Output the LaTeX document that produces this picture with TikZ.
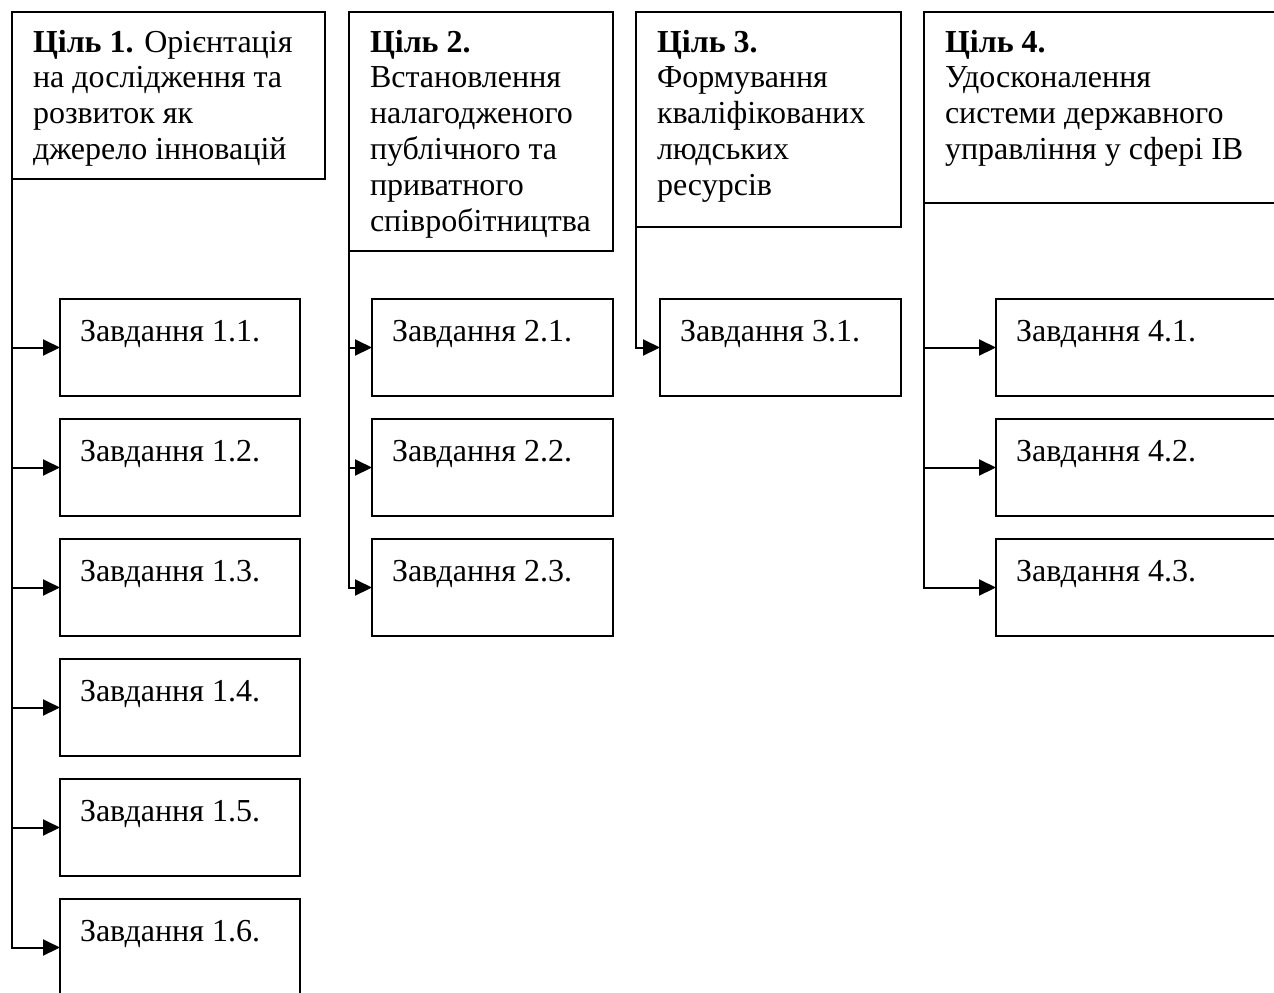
\documentclass[tikz,border=0pt]{standalone}
\usepackage{fontspec}
\setmainfont{Liberation Serif}
\usepackage{tikz}
\usetikzlibrary{arrows.meta}

\newcommand{\goaltxt}[3]{\parbox[t][#1][t]{#2}{\raggedright\rule{0pt}{20pt}#3}}
\newcommand{\tasktxt}[2][100pt]{\parbox[t][48.5pt][t]{#1}{\rule{0pt}{21pt}#2}}

\tikzset{
  goalbox/.style={draw, line width=0.8pt, anchor=north west, inner xsep=10.5pt,
    inner ysep=0pt, outer sep=0pt, font={\fontsize{16pt}{17.9pt}\selectfont}},
  taskbox/.style={draw, line width=0.8pt, anchor=north west, inner xsep=10pt,
    inner ysep=0pt, outer sep=0pt, font={\fontsize{16pt}{17.9pt}\selectfont}},
  link/.style={line width=1pt, -{Triangle[length=8.5pt,width=8pt]}}
}

\begin{document}
\begin{tikzpicture}[x=0.5pt,y=-0.5pt]
  \useasboundingbox (0,0) rectangle (1274,992);

  % goals
  \node[goalbox] (g1) at (12,12) {\goaltxt{83.5pt}{135.5pt}{\textbf{Ціль 1.} Орієнтація\\
    на дослідження та\\ розвиток як\\ джерело інновацій}};
  \node[goalbox] (g2) at (349,12) {\goaltxt{119.5pt}{111pt}{\textbf{Ціль 2.}\\ Встановлення\\
    налагодженого\\ публічного та\\ приватного\\ співробітництва}};
  \node[goalbox] (g3) at (636,12) {\goaltxt{107.5pt}{111.5pt}{\textbf{Ціль 3.}\\ Формування\\
    кваліфікованих\\ людських\\ ресурсів}};
  \node[goalbox] (g4) at (924,12) {\goaltxt{95.5pt}{180pt}{\textbf{Ціль 4.}\\ Удосконалення\\
    системи державного\\ управління у сфері ІВ}};

  % tasks
  \foreach \i in {1,...,6}{
    \node[taskbox] (t1\i) at (60,{299+120*(\i-1)}) {\tasktxt{Завдання 1.\i.}};
    \draw[link] (g1.south west) |- (t1\i.west);
  }
  \foreach \i in {1,2,3}{
    \node[taskbox] (t2\i) at (372,{299+120*(\i-1)}) {\tasktxt[100.5pt]{Завдання 2.\i.}};
    \draw[link] (g2.south west) |- (t2\i.west);
  }
  \node[taskbox] (t31) at (660,299) {\tasktxt[100.5pt]{Завдання 3.1.}};
  \draw[link] (g3.south west) |- (t31.west);
  \foreach \i in {1,2,3}{
    \node[taskbox] (t4\i) at (996,{299+120*(\i-1)}) {\tasktxt[160pt]{Завдання 4.\i.}};
    \draw[link] (g4.south west) |- (t4\i.west);
  }
\end{tikzpicture}
\end{document}
